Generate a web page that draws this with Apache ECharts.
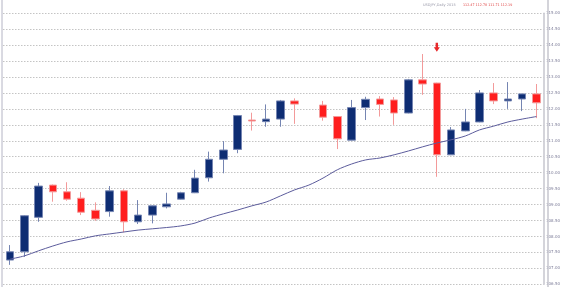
<!DOCTYPE html>
<html>
<head>
<meta charset="utf-8">
<script src="https://cdn.jsdelivr.net/npm/echarts@6/dist/echarts.min.js"></script>
<style>
html,body{margin:0;padding:0;background:#fff;}
#c{width:563px;height:287px;}
</style>
</head>
<body>
<div id="c"></div>
<script>
const categories = ['1','2','3','4','5','6','7','8','9','10','11','12','13','14','15','16','17','18','19','20','21','22','23','24','25','26','27','28','29','30','31','32','33','34','35','36','37','38'];
const opens  = [107.26,107.52,108.60,109.61,109.40,109.20,108.82,108.78,109.43,108.46,108.67,108.93,109.17,109.37,109.84,110.42,110.73,111.65,111.60,111.68,112.25,null,112.12,111.76,111.02,112.04,112.31,112.28,111.87,112.91,112.81,110.56,111.31,111.59,112.50,112.25,112.31,112.47];
const closes = [107.52,108.65,109.58,109.40,109.17,108.76,108.55,109.43,108.46,108.67,108.96,109.02,109.37,109.83,110.42,110.71,111.79,111.62,111.68,112.25,112.15,null,111.74,111.06,112.04,112.30,112.14,111.87,112.91,112.78,110.56,111.34,111.59,112.50,112.25,112.31,112.47,112.19];
const lows   = [107.11,107.36,108.46,109.09,109.12,108.67,108.49,108.62,108.13,108.39,108.41,108.88,109.16,109.36,109.72,109.98,110.61,111.32,111.44,111.44,111.53,null,111.63,110.74,111.01,111.65,111.76,111.50,111.86,112.44,109.87,110.55,111.30,111.58,112.15,112.00,111.93,111.71];
const highs  = [107.73,108.67,109.68,109.63,109.70,109.39,109.07,109.58,109.48,109.14,108.97,109.37,109.40,110.09,110.66,110.99,111.81,111.88,112.14,112.28,112.33,null,112.25,111.77,112.28,112.38,112.40,112.37,112.94,113.72,112.82,111.43,112.00,112.59,112.81,112.84,112.48,112.78];
const maValues = [107.29,107.39,107.55,107.70,107.83,107.92,108.02,108.08,108.14,108.20,108.24,108.28,108.33,108.42,108.58,108.71,108.83,108.96,109.08,109.27,109.46,109.61,109.83,110.09,110.27,110.40,110.46,110.56,110.68,110.81,110.93,111.03,111.15,111.34,111.46,111.59,111.68,111.76];
const yMin = 106.5, yMax = 115.0, yStep = 0.5;
const priceTags = [111.27, 110.48];
const arrowIndex = 30, arrowValue = 113.93;
const headerGray = 'USDJPY,Daily 2015';
const headerRed = '112.47 112.78 111.71 112.19';

const candleData = categories.map((c, i) => opens[i] == null ? '-' : [opens[i], closes[i], lows[i], highs[i]]);

const chart = echarts.init(document.getElementById('c'), null, {renderer: 'canvas'});
chart.setOption({
  animation: false,
  backgroundColor: '#ffffff',
  grid: {left: 3, right: 15, top: 13.2, bottom: 2.7},
  xAxis: {
    type: 'category', data: categories, boundaryGap: true,
    axisLine: {show: false}, axisTick: {show: false}, axisLabel: {show: false}, splitLine: {show: false}
  },
  yAxis: {
    type: 'value', position: 'right', min: yMin, max: yMax, interval: yStep, scale: true,
    axisLine: {show: true, lineStyle: {color: '#c6c6ce', width: 1.5}},
    axisTick: {show: false},
    axisLabel: {fontSize: 4, color: '#7c7c98', margin: 2.5, fontFamily: 'DejaVu Sans', formatter: v => v.toFixed(2)},
    splitLine: {show: true, lineStyle: {color: '#c4c4c4', type: [1.5, 1.5], width: 1}}
  },
  graphic: [
    {type: 'line', shape: {x1: 548, y1: 0, x2: 548, y2: 287}, style: {stroke: '#c6c6ce', lineWidth: 1.5}, z: 1},
    {type: 'line', shape: {x1: 2, y1: 0, x2: 2, y2: 287}, style: {stroke: '#b4b4c4', lineWidth: 1}, z: 1},
    {type: 'text', left: 423, top: 3.5, style: {text: headerGray, fill: '#9a9aaa', fontSize: 3.5, fontFamily: 'DejaVu Sans'}},
    {type: 'text', left: 463, top: 3.5, style: {text: headerRed, fill: '#e04848', fontSize: 3.3, fontFamily: 'DejaVu Sans'}}
  ],
  series: [
    {
      type: 'candlestick', data: candleData, barWidth: 8,
      itemStyle: {color: '#0e2d73', color0: '#ff1e1e', borderColor: '#7585b2', borderColor0: '#f39a9a', borderWidth: 1},
      markPoint: {
        symbol: 'path://M3,0 L7,0 L7,5 L10,5 L5,10 L0,5 L3,5 Z', symbolSize: [6, 9], silent: true,
        itemStyle: {color: '#e8282a'}, label: {show: false},
        data: [{coord: [arrowIndex, arrowValue]}]
      },
      markLine: {
        silent: true, symbol: 'none', animation: false,
        lineStyle: {opacity: 0},
        label: {position: 'end', distance: 1.5, fontSize: 4, fontFamily: 'DejaVu Sans', color: '#303048', padding: [1, 1], formatter: p => p.value.toFixed(2)},
        data: [
          {yAxis: priceTags[0], label: {backgroundColor: '#a8aed0'}},
          {yAxis: priceTags[1], label: {backgroundColor: '#bcbcbc'}}
        ]
      },
      z: 3
    },
    {
      type: 'line', data: maValues, symbol: 'none', smooth: 0.3,
      lineStyle: {color: '#5c5c9c', width: 1}, z: 4
    }
  ]
});
</script>
</body>
</html>
